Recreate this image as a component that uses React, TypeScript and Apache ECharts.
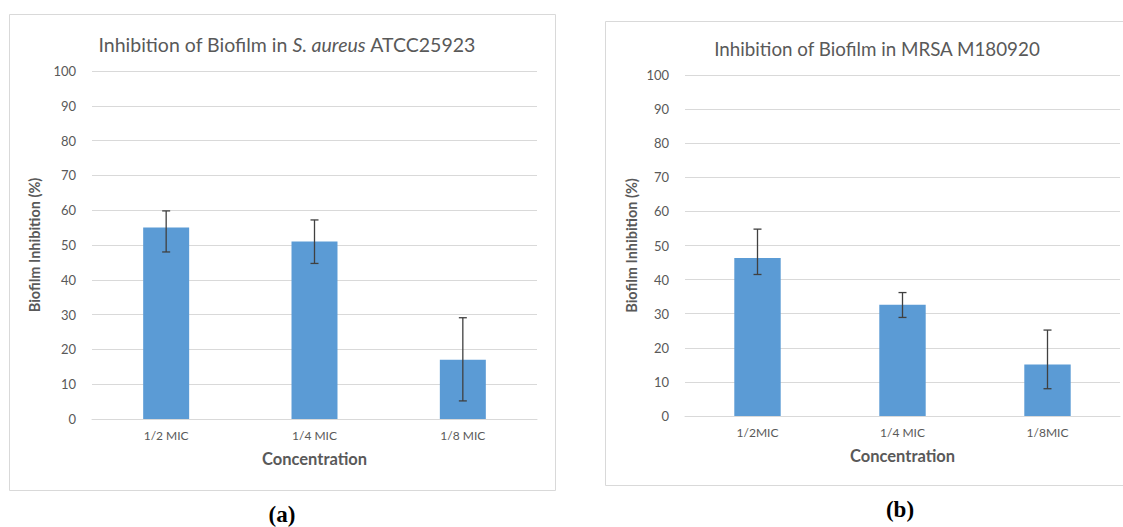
import React, { useEffect, useRef } from "react";
import * as echarts from "echarts";

const categoriesA = ["1/2 MIC", "1/4 MIC", "1/8 MIC"];
const valuesA = [55, 51, 17];
const errLowA = [48, 44.7, 5.2];
const errHighA = [59.8, 57.2, 29.1];

const categoriesB = ["1/2MIC", "1/4 MIC", "1/8MIC"];
const valuesB = [46.3, 32.6, 15.1];
const errLowB = [41.5, 28.9, 8.0];
const errHighB = [54.8, 36.2, 25.2];

const yTicks = { min: 0, max: 100, interval: 10 };

const TEXT = "#595959";
const GRID = "#D9D9D9";
const BAR = "#5B9BD5";
const ERR = "#404040";
const FONT = "Lato, 'Open Sans', sans-serif";

function errRender(params: any, api: any) {
  const x = api.value(0);
  const top = api.coord([x, api.value(2)]);
  const bot = api.coord([x, api.value(1)]);
  const hw = 4;
  const style = { stroke: ERR, lineWidth: 1.3 };
  return {
    type: "group",
    children: [
      { type: "line", shape: { x1: top[0], y1: top[1], x2: bot[0], y2: bot[1] }, style },
      { type: "line", shape: { x1: top[0] - hw, y1: top[1], x2: top[0] + hw, y2: top[1] }, style },
      { type: "line", shape: { x1: bot[0] - hw, y1: bot[1], x2: bot[0] + hw, y2: bot[1] }, style },
    ],
  };
}

function xAxisCfg(cats: string[], gridIndex: number) {
  return {
    type: "category",
    gridIndex,
    data: cats,
    axisTick: { show: false },
    axisLine: { show: true, lineStyle: { color: GRID, width: 1 } },
    axisLabel: { color: TEXT, fontSize: 12, fontFamily: FONT, margin: 10 },
    name: "Concentration",
    nameLocation: "middle",
    nameGap: 31,
    nameTextStyle: { color: TEXT, fontSize: 16.5, fontWeight: "bold", fontFamily: FONT },
  };
}

function yAxisCfg(gridIndex: number, gap: number) {
  return {
    type: "value",
    gridIndex,
    min: yTicks.min,
    max: yTicks.max,
    interval: yTicks.interval,
    axisLine: { show: false },
    axisTick: { show: false },
    splitLine: { lineStyle: { color: GRID, width: 1 } },
    axisLabel: { color: TEXT, fontSize: 13, fontFamily: FONT, margin: 16 },
    name: "Biofilm Inhibition (%)",
    nameLocation: "middle",
    nameRotate: 90,
    nameGap: gap,
    nameTextStyle: { color: TEXT, fontSize: 14.5, fontWeight: "bold", fontFamily: FONT },
  };
}

export default function App() {
  const ref = useRef<HTMLDivElement>(null);
  useEffect(() => {
    if (!ref.current) return;
    const chart = echarts.init(ref.current, undefined, { renderer: "svg" });
    chart.setOption({
      animation: false,
      backgroundColor: "#ffffff",
      title: [
        {
          text: "{n|Inhibition of Biofilm in }{i|S. aureus}{n| ATCC25923}",
          left: 282,
          top: 29,
          textAlign: "center",
          textStyle: {
            rich: {
              n: { color: TEXT, fontSize: 19.5, fontFamily: FONT, fontWeight: "normal" },
              i: { color: TEXT, fontSize: 19.5, fontFamily: FONT, fontStyle: "italic", fontWeight: "normal" },
            },
          },
        },
        {
          text: "Inhibition of Biofilm in MRSA M180920",
          left: 872,
          top: 34,
          textAlign: "center",
          textStyle: { color: TEXT, fontSize: 18.8, fontFamily: FONT, fontWeight: "normal" },
        },
      ],
      grid: [
        { left: 92, top: 71, width: 445, height: 348 },
        { left: 685, top: 75, width: 435, height: 341 },
      ],
      xAxis: [xAxisCfg(categoriesA, 0), xAxisCfg(categoriesB, 1)],
      yAxis: [yAxisCfg(0, 50), yAxisCfg(1, 46)],
      series: [
        {
          type: "bar",
          xAxisIndex: 0,
          yAxisIndex: 0,
          data: valuesA,
          barWidth: "31%",
          itemStyle: { color: BAR },
        },
        {
          type: "custom",
          xAxisIndex: 0,
          yAxisIndex: 0,
          renderItem: errRender,
          encode: { x: 0, y: [1, 2] },
          data: categoriesA.map((_, i) => [i, errLowA[i], errHighA[i]]),
          z: 10,
        },
        {
          type: "bar",
          xAxisIndex: 1,
          yAxisIndex: 1,
          data: valuesB,
          barWidth: "32%",
          itemStyle: { color: BAR },
        },
        {
          type: "custom",
          xAxisIndex: 1,
          yAxisIndex: 1,
          renderItem: errRender,
          encode: { x: 0, y: [1, 2] },
          data: categoriesB.map((_, i) => [i, errLowB[i], errHighB[i]]),
          z: 10,
        },
      ],
      graphic: [
        {
          type: "rect",
          shape: { x: 9.5, y: 14.5, width: 546, height: 476 },
          style: { fill: "none", stroke: GRID, lineWidth: 1 },
          silent: true,
        },
        {
          type: "rect",
          shape: { x: 605.5, y: 21.5, width: 540, height: 464 },
          style: { fill: "none", stroke: GRID, lineWidth: 1 },
          silent: true,
        },
        {
          type: "text",
          x: 282,
          y: 514,
          style: {
            text: "(a)",
            fill: "#000000",
            font: "bold 23px 'Liberation Serif', 'DejaVu Serif', serif",
            textAlign: "center",
            textVerticalAlign: "middle",
          },
        },
        {
          type: "text",
          x: 900,
          y: 509,
          style: {
            text: "(b)",
            fill: "#000000",
            font: "bold 23px 'Liberation Serif', 'DejaVu Serif', serif",
            textAlign: "center",
            textVerticalAlign: "middle",
          },
        },
      ],
    });
    return () => chart.dispose();
  }, []);
  return (
    <div
      ref={ref}
      style={{ position: "fixed", left: 0, top: 0, width: 1123, height: 527, background: "#fff" }}
    />
  );
}
